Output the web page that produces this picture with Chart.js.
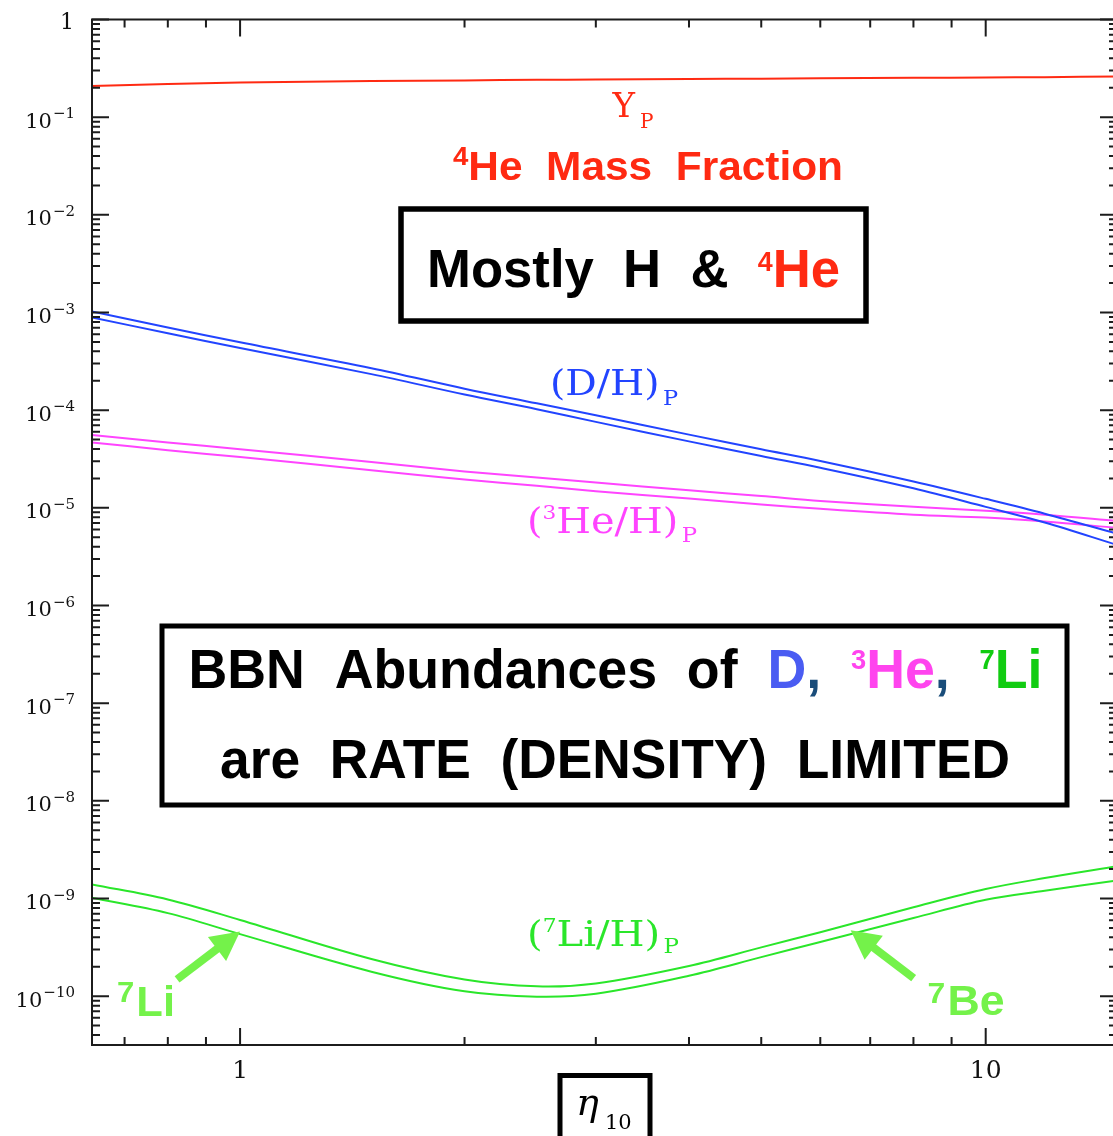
<!DOCTYPE html>
<html>
<head>
<meta charset="utf-8">
<title>BBN abundances vs eta10</title>
<script src="https://cdn.jsdelivr.net/npm/chart.js@4.4.1/dist/chart.umd.min.js"></script>
<style>
  html, body { margin: 0; padding: 0; background: #fff; overflow: hidden; }
  canvas { display: block; }
</style>
</head>
<body>
<canvas id="bbn" width="1118" height="1136"></canvas>
<script>
// eta_10 grid shared by all the curves
const eta = [0.633, 0.8, 1, 1.5, 2, 2.5, 3, 4, 5, 6, 8, 10, 12, 15];

// 4He mass fraction
const yp = [0.208, 0.218, 0.226, 0.234, 0.238, 0.241, 0.243, 0.246, 0.248, 0.250, 0.253, 0.255, 0.257, 0.261];

// D/H band (upper / lower edge)
const dhHigh = [1.023e-3, 7.03e-4, 4.95e-4, 2.69e-4, 1.66e-4, 1.175e-4, 8.85e-5, 5.62e-5, 3.98e-5, 3.02e-5, 1.86e-5, 1.236e-5, 8.71e-6, 5.43e-6];
const dhLow  = [8.91e-4, 6.12e-4, 4.32e-4, 2.34e-4, 1.445e-4, 1.023e-4, 7.59e-5, 4.79e-5, 3.39e-5, 2.57e-5, 1.585e-5, 1.023e-5, 7.08e-6, 4.17e-6];

// 3He/H band
const he3High = [5.56e-5, 4.67e-5, 3.98e-5, 2.95e-5, 2.36e-5, 2.04e-5, 1.82e-5, 1.51e-5, 1.32e-5, 1.175e-5, 1.023e-5, 9.33e-6, 8.51e-6, 7.33e-6];
const he3Low  = [4.68e-5, 3.89e-5, 3.31e-5, 2.43e-5, 1.95e-5, 1.68e-5, 1.48e-5, 1.245e-5, 1.084e-5, 9.77e-6, 8.51e-6, 7.94e-6, 7.24e-6, 6.24e-6];

// 7Li/H band
const li7High = [1.393e-9, 9.77e-10, 6.03e-10, 2.40e-10, 1.48e-10, 1.26e-10, 1.35e-10, 2.04e-10, 3.16e-10, 4.52e-10, 8.13e-10, 1.25e-9, 1.62e-9, 2.14e-9];
const li7Low  = [1.016e-9, 7.08e-10, 4.32e-10, 1.78e-10, 1.12e-10, 9.89e-11, 1.06e-10, 1.62e-10, 2.51e-10, 3.59e-10, 6.31e-10, 9.7e-10, 1.20e-9, 1.53e-9];

// axis ranges and labelled ticks
const xRange = [0.633, 15];
const yRange = [Math.pow(10, -10.5), 1];
const xLabelValues = [1, 10];
const yLabelExponents = [0, -1, -2, -3, -4, -5, -6, -7, -8, -9, -10];

// arrow tips sit on the Li band
const liArrowTip = [1.0, 4.6e-10];
const beArrowTip = [6.59, 4.74e-10];

const RED = '#ff2a12';
const BLUE = '#2244ff';
const MAGENTA = '#ff44ff';
const GREEN = '#2ae62a';
const LIGHT_GREEN = '#74f24a';
const SANS = 'Liberation Sans, Arial, sans-serif';
const SERIF = 'DejaVu Serif, serif';

const pts = arr => eta.map((x, i) => ({ x: x, y: arr[i] }));

const line = (data, color) => ({
  data: pts(data),
  borderColor: color,
  borderWidth: 2,
  pointRadius: 0,
  fill: false,
  tension: 0.35
});

// draw a run of differently styled text pieces, squeezed to a given width
function richText(ctx, parts, cx, baseline, width) {
  let total = 0;
  parts.forEach(p => {
    ctx.font = p.font;
    p.w = ctx.measureText(p.text).width + (p.dx || 0);
    total += p.w;
  });
  const sx = width ? width / total : 1;
  ctx.save();
  ctx.textAlign = 'left';
  ctx.textBaseline = 'alphabetic';
  ctx.translate(cx - total * sx / 2, baseline);
  ctx.scale(sx, 1);
  let xx = 0;
  parts.forEach(p => {
    ctx.font = p.font;
    ctx.fillStyle = p.color;
    ctx.fillText(p.text, xx + (p.dx || 0), p.dy || 0);
    xx += p.w;
  });
  ctx.restore();
}

function arrow(ctx, x0, y0, x1, y1, color) {
  const ang = Math.atan2(y1 - y0, x1 - x0);
  const headLen = 29, headHalf = 15;
  const bx = x1 - headLen * Math.cos(ang), by = y1 - headLen * Math.sin(ang);
  ctx.save();
  ctx.strokeStyle = color;
  ctx.fillStyle = color;
  ctx.lineWidth = 8;
  ctx.beginPath();
  ctx.moveTo(x0, y0);
  ctx.lineTo(bx + 2 * Math.cos(ang), by + 2 * Math.sin(ang));
  ctx.stroke();
  ctx.beginPath();
  ctx.moveTo(x1, y1);
  ctx.lineTo(bx - headHalf * Math.sin(ang), by + headHalf * Math.cos(ang));
  ctx.lineTo(bx + headHalf * Math.sin(ang), by - headHalf * Math.cos(ang));
  ctx.closePath();
  ctx.fill();
  ctx.restore();
}

const axesAndNotes = {
  id: 'axesAndNotes',
  afterDraw(chart) {
    const { ctx, chartArea: a, scales: { x, y } } = chart;
    ctx.save();

    // frame
    ctx.strokeStyle = '#1c1c1c';
    ctx.lineWidth = 2;
    ctx.strokeRect(a.left, a.top, a.right - a.left, a.bottom - a.top);

    // inward log ticks on all four sides
    ctx.beginPath();
    for (let d = -1; d <= 1; d++) {
      for (let m = 1; m < 10; m++) {
        const v = m * Math.pow(10, d);
        if (v < x.min * 0.999 || v > x.max * 1.001) continue;
        const px = x.getPixelForValue(v);
        const len = m === 1 ? 17 : 8;
        ctx.moveTo(px, a.bottom); ctx.lineTo(px, a.bottom - len);
        ctx.moveTo(px, a.top); ctx.lineTo(px, a.top + len);
      }
    }
    for (let d = -11; d <= 0; d++) {
      for (let m = 1; m < 10; m++) {
        const v = m * Math.pow(10, d);
        if (v < y.min * 0.999 || v > y.max * 1.001) continue;
        const py = y.getPixelForValue(v);
        const len = m === 1 ? 17 : 8;
        ctx.moveTo(a.left, py); ctx.lineTo(a.left + len, py);
        ctx.moveTo(a.right, py); ctx.lineTo(a.right - len, py);
      }
    }
    ctx.stroke();

    // tick labels
    ctx.fillStyle = '#111';
    ctx.textBaseline = 'alphabetic';
    ctx.textAlign = 'center';
    ctx.font = '25px ' + SERIF;
    xLabelValues.forEach(v => {
      ctx.fillText(String(v), x.getPixelForValue(v), 1078);
    });
    yLabelExponents.forEach(e => {
      const py = y.getPixelForValue(Math.pow(10, e));
      ctx.textAlign = 'right';
      if (e === 0) {
        ctx.font = '22px ' + SERIF;
        ctx.fillText('1', 74, py + 9);
        return;
      }
      ctx.font = '15px ' + SERIF;
      const sup = '\u2212' + String(-e);
      ctx.fillText(sup, 75, py + 1);
      const sw = ctx.measureText(sup).width;
      ctx.font = '21px ' + SERIF;
      ctx.fillText('10', 75 - sw - 1, py + 10.5);
    });

    // eta_10 axis title in a box
    ctx.strokeStyle = '#000';
    ctx.lineWidth = 5;
    ctx.strokeRect(560, 1075.5, 90, 80);
    ctx.fillStyle = '#000';
    ctx.textAlign = 'left';
    ctx.font = 'italic 38px ' + SERIF;
    ctx.fillText('\u03b7', 576, 1115);
    ctx.font = '21px ' + SERIF;
    ctx.fillText('10', 605, 1129);

    // curve labels
    richText(ctx, [
      { text: 'Y', font: '34px ' + SERIF, color: RED },
      { text: 'P', font: '20px ' + SERIF, color: RED, dy: 11, dx: 5 }
    ], 633, 117, 41);

    richText(ctx, [
      { text: '4', font: 'bold 26px ' + SANS, color: RED, dy: -15 },
      { text: 'He  Mass  Fraction', font: 'bold 40px ' + SANS, color: RED }
    ], 648, 180, 390);

    richText(ctx, [
      { text: '(D/H)', font: '35px ' + SERIF, color: BLUE },
      { text: 'P', font: '20px ' + SERIF, color: BLUE, dy: 10, dx: 3 }
    ], 614, 395, 128);

    richText(ctx, [
      { text: '(', font: '35px ' + SERIF, color: MAGENTA },
      { text: '3', font: '19px ' + SERIF, color: MAGENTA, dy: -14 },
      { text: 'He/H)', font: '35px ' + SERIF, color: MAGENTA },
      { text: 'P', font: '20px ' + SERIF, color: MAGENTA, dy: 9, dx: 3 }
    ], 612, 533, 170);

    richText(ctx, [
      { text: '(', font: '35px ' + SERIF, color: GREEN },
      { text: '7', font: '19px ' + SERIF, color: GREEN, dy: -14 },
      { text: 'Li/H)', font: '35px ' + SERIF, color: GREEN },
      { text: 'P', font: '20px ' + SERIF, color: GREEN, dy: 7, dx: 3 }
    ], 603, 946, 152);

    // "Mostly H & 4He" box
    ctx.strokeStyle = '#000';
    ctx.lineWidth = 5.5;
    ctx.strokeRect(401, 209, 465, 112);
    richText(ctx, [
      { text: 'Mostly  H  &  ', font: 'bold 53px ' + SANS, color: '#000' },
      { text: '4', font: 'bold 27px ' + SANS, color: RED, dy: -16 },
      { text: 'He', font: 'bold 53px ' + SANS, color: RED }
    ], 633.5, 287, 413);

    // BBN box
    ctx.lineWidth = 5;
    ctx.strokeRect(162, 626, 905, 179);
    const big = 'bold 55px ' + SANS, sup = 'bold 28px ' + SANS;
    richText(ctx, [
      { text: 'BBN  Abundances  of  ', font: big, color: '#000' },
      { text: 'D', font: big, color: '#4a5cf2' },
      { text: ',  ', font: big, color: '#1a4d7a' },
      { text: '3', font: sup, color: '#ff44ee', dy: -19 },
      { text: 'He', font: big, color: '#ff44ee' },
      { text: ',  ', font: big, color: '#1a4d7a' },
      { text: '7', font: sup, color: '#11cc11', dy: -19 },
      { text: 'Li', font: big, color: '#11cc11' }
    ], 615.5, 688, 854);
    richText(ctx, [
      { text: 'are  RATE  (DENSITY)  LIMITED', font: big, color: '#000' }
    ], 615, 778, 790);

    // 7Li and 7Be arrows
    const lx = x.getPixelForValue(liArrowTip[0]), ly = y.getPixelForValue(liArrowTip[1]);
    arrow(ctx, lx - 63, ly + 48, lx, ly, LIGHT_GREEN);
    const bx = x.getPixelForValue(beArrowTip[0]), by = y.getPixelForValue(beArrowTip[1]);
    arrow(ctx, bx + 63, by + 48, bx, by, LIGHT_GREEN);

    richText(ctx, [
      { text: '7', font: 'bold 30px ' + SANS, color: LIGHT_GREEN, dy: -14 },
      { text: 'Li', font: 'bold 42px ' + SANS, color: LIGHT_GREEN, dx: 2 }
    ], 146, 1016, 58);
    richText(ctx, [
      { text: '7', font: 'bold 30px ' + SANS, color: LIGHT_GREEN, dy: -12 },
      { text: 'Be', font: 'bold 42px ' + SANS, color: LIGHT_GREEN, dx: 2 }
    ], 966, 1015, 77);

    ctx.restore();
  }
};

new Chart(document.getElementById('bbn').getContext('2d'), {
  type: 'line',
  data: {
    datasets: [
      line(yp, RED),
      line(dhHigh, BLUE),
      line(dhLow, BLUE),
      line(he3High, MAGENTA),
      line(he3Low, MAGENTA),
      line(li7High, GREEN),
      line(li7Low, GREEN)
    ]
  },
  options: {
    responsive: false,
    animation: false,
    devicePixelRatio: 1,
    layout: { padding: { left: 92, right: 1, top: 19.5, bottom: 91 } },
    plugins: { legend: { display: false }, tooltip: { enabled: false } },
    scales: {
      // keep the exact user range instead of snapping to round tick values
      x: { type: 'logarithmic', bounds: 'data', min: xRange[0], max: xRange[1], display: false },
      y: { type: 'logarithmic', bounds: 'data', min: yRange[0], max: yRange[1], display: false }
    }
  },
  plugins: [axesAndNotes]
});
</script>
</body>
</html>
